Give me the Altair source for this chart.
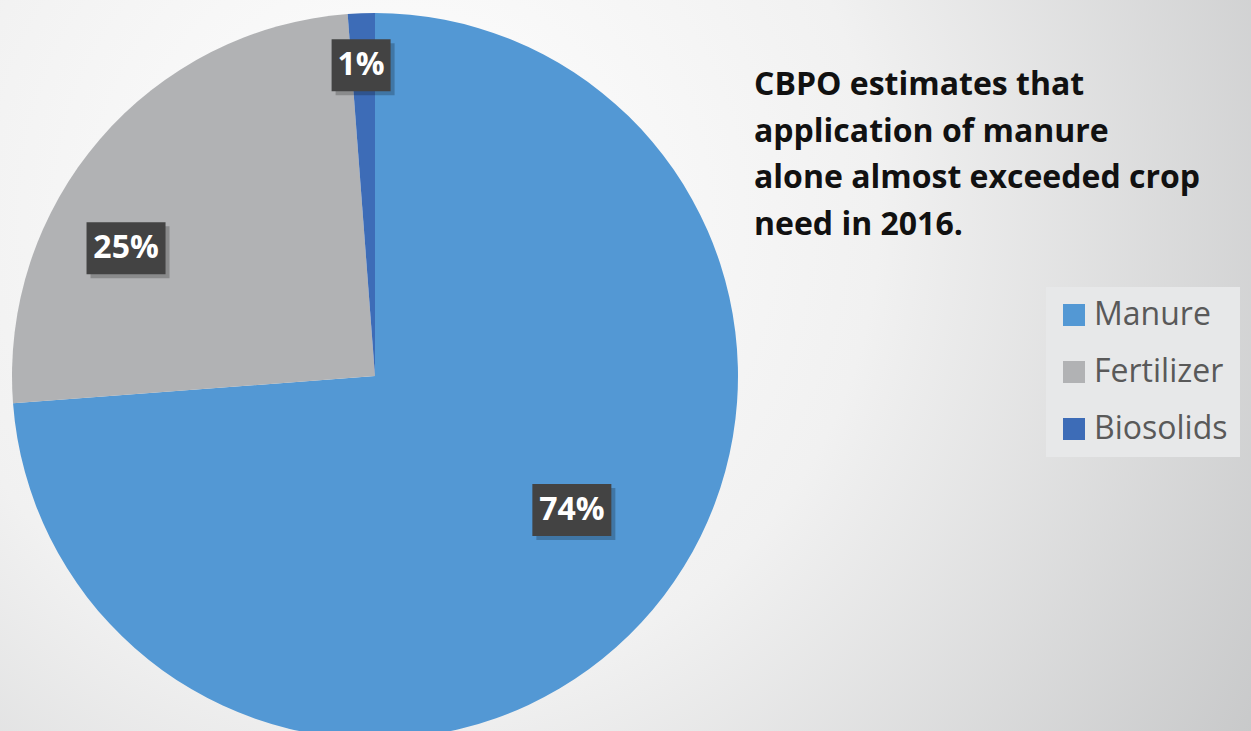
import altair as alt
import pandas as pd

# ---- data ----
categories = ["Manure", "Fertilizer", "Biosolids"]
shares = [73.8, 25.0, 1.2]
colors = ["#5398d4", "#b1b2b4", "#3d6cb7"]
title_lines = ["CBPO estimates that", "application of manure",
               "alone almost exceeded crop", "need in 2016."]

# ---- layout / style constants ----
W, H = 1251, 731
CX, CY, R = 375, 376, 363
LABEL_R = {"Manure": 0.656, "Fertilizer": 0.771, "Biosolids": 0.857}
LABEL_SHIFT = {"Manure": -8.6, "Fertilizer": -13.5, "Biosolids": -0.4}  # degrees

df = pd.DataFrame({"cat": categories, "v": shares, "idx": list(range(len(categories)))})

def lookup(d):
    expr = "0"
    for k, val in d.items():
        expr = f"(datum.cat == '{k}' ? {val} : {expr})"
    return expr

base = alt.Chart(df)

bg = alt.Chart(alt.Data(values=[{"a": 1}])).mark_rect(
    color=alt.Gradient(
        gradient="radial",
        x1=0.32, y1=0.38, r1=0.0,
        x2=0.32, y2=0.38, r2=0.85,
        stops=[alt.GradientStop(offset=0, color="#ffffff"),
               alt.GradientStop(offset=0.45, color="#f1f1f1"),
               alt.GradientStop(offset=1, color="#c3c4c5")],
    )
).encode(x=alt.value(0), x2=alt.value(W), y=alt.value(0), y2=alt.value(H))

pie = base.mark_arc(radius=R).encode(
    theta=alt.Theta("v:Q", stack=True),
    order=alt.Order("idx:Q", sort="ascending"),
    color=alt.Color(
        "cat:N",
        scale=alt.Scale(domain=categories, range=colors),
        legend=alt.Legend(
            title=None, orient="none", legendX=1046, legendY=287,
            symbolType="square", symbolSize=484, symbolStrokeWidth=0,
            labelFont="Open Sans", labelFontSize=32, labelColor="#595959",
            labelOffset=4, rowPadding=25, padding=12,
            fillColor="#e7e8e9", labelLimit=300,
        ),
    ),
    x=alt.value(CX), y=alt.value(CY),
)

lab = base.transform_joinaggregate(total="sum(v)").transform_window(
    cum="sum(v)", sort=[alt.SortField("idx")]
).transform_calculate(
    mid="((datum.cum - datum.v / 2) / datum.total) * 2 * PI",
    rf=lookup(LABEL_R),
    sh=lookup(LABEL_SHIFT),
).transform_calculate(
    ang="datum.mid + datum.sh * PI / 180",
).transform_calculate(
    lx=f"{CX} + {R} * datum.rf * sin(datum.ang)",
    ly=f"{CY} - {R} * datum.rf * cos(datum.ang)",
    label="round(datum.v / datum.total * 100) + '%'",
).transform_calculate(
    hw="(20 * length(datum.label) + 19) / 2",
).transform_calculate(
    x1="datum.lx - datum.hw", x2="datum.lx + datum.hw",
    y1="datum.ly - 26", y2="datum.ly + 26",
    sx1="datum.lx - datum.hw + 4", sx2="datum.lx + datum.hw + 4",
    sy1="datum.ly - 22", sy2="datum.ly + 30",
)

shadow = lab.mark_rect(color="#000000", opacity=0.22).encode(
    x=alt.X("sx1:Q", scale=None), x2="sx2:Q",
    y=alt.Y("sy1:Q", scale=None), y2="sy2:Q",
)
box = lab.mark_rect(color="#434343").encode(
    x=alt.X("x1:Q", scale=None), x2="x2:Q",
    y=alt.Y("y1:Q", scale=None), y2="y2:Q",
)
txt = lab.mark_text(font="Open Sans", fontWeight="bold", fontSize=32, color="white",
                    align="center", baseline="middle").encode(
    x=alt.X("lx:Q", scale=None), y=alt.Y("ly:Q", scale=None), text="label:N",
)

title = alt.Chart(alt.Data(values=[{"a": 1}])).mark_text(
    text=title_lines, font="Open Sans", fontWeight="bold", fontSize=32, color="#111111",
    align="left", baseline="alphabetic", lineHeight=46.5,
).encode(x=alt.value(754), y=alt.value(95))

chart = alt.layer(bg, pie, shadow, box, txt, title).properties(
    width=W, height=H, padding=0, autosize="none"
).configure_view(stroke=None).configure(background="#f0f0f0")

chart.save("out.html", embed_options={"renderer": "svg", "actions": False})
